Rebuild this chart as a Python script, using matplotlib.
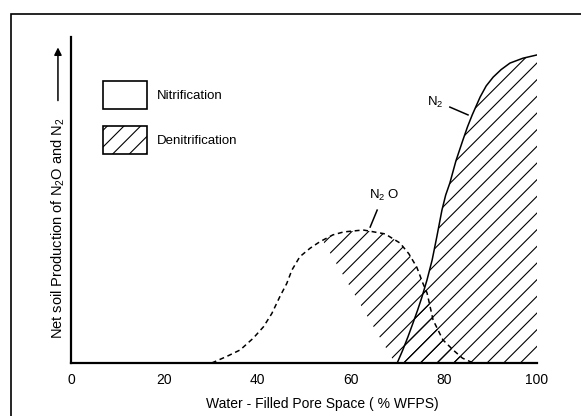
import matplotlib
matplotlib.use('Agg')
import matplotlib.pyplot as plt
from matplotlib.patches import Rectangle, Patch

plt.rcParams['font.family'] = ['Liberation Sans', 'DejaVu Sans']
plt.rcParams['mathtext.fontset'] = 'custom'
plt.rcParams['mathtext.rm'] = 'Liberation Sans'
plt.rcParams['mathtext.it'] = 'Liberation Sans:italic'
plt.rcParams['hatch.linewidth'] = 0.8

# N2O production (dashed bell curve), x = % WFPS, y = relative production
n2o_x = [30.2, 33.4, 36.3, 39.1, 41.3, 43.1, 44.8, 46.3, 47.4, 49.1, 51.3, 53.4, 56.2,
         58.5, 62.7, 67.4, 70.6, 72.5, 74.2, 75.5, 76.4, 77.7, 79.8, 82.0, 84.0, 86.3]
n2o_y = [0.0, 2.0, 4.0, 7.6, 11.1, 15.2, 20.3, 24.4, 28.5, 32.6, 35.2, 37.2, 39.3,
         40.2, 40.8, 39.6, 36.8, 33.5, 29.4, 24.5, 21.5, 13.2, 7.1, 4.0, 1.5, 0.0]

# N2 production (solid rising curve)
n2_x = [70.0, 71.2, 72.3, 73.4, 74.4, 75.3, 76.4, 77.5, 78.5, 79.6, 80.4, 81.3,
        82.6, 84.1, 85.1, 86.1, 87.8, 89.1, 90.6, 92.3, 94.2, 97.0, 100.0]
n2_y = [0.0, 4.0, 8.0, 12.3, 16.3, 20.2, 25.5, 31.6, 38.7, 46.9, 51.5, 55.2,
        62.0, 68.4, 72.5, 76.1, 81.6, 85.0, 87.7, 90.0, 92.0, 93.5, 94.5]

# start and end of the hatched (denitrification) part under the N2O curve
n2o_hatch_start = 54.0
n2o_hatch_base = 69.5

xticks = [0, 20, 40, 60, 80, 100]

fig = plt.figure(figsize=(5.81, 4.16), dpi=100)
ax = fig.add_axes([71 / 581, 1 - 363 / 416, 466 / 581, 326 / 416])
ax.set_xlim(0, 100)
ax.set_ylim(0, 100)

# hatched denitrification area under N2O
top_y = n2o_y[0]
for i in range(len(n2o_x) - 1):
    if n2o_x[i] <= n2o_hatch_start <= n2o_x[i + 1]:
        t = (n2o_hatch_start - n2o_x[i]) / (n2o_x[i + 1] - n2o_x[i])
        top_y = n2o_y[i] + t * (n2o_y[i + 1] - n2o_y[i])
hx = [n2o_hatch_start] + [x for x in n2o_x if x > n2o_hatch_start] + [n2o_hatch_base]
hy = [top_y] + [y for x, y in zip(n2o_x, n2o_y) if x > n2o_hatch_start] + [0.0]
ax.fill(hx, hy, facecolor='none', edgecolor='black', linewidth=0, hatch='//')

# hatched area under N2
ax.fill(n2_x + [n2_x[-1]], n2_y + [0.0], facecolor='none', edgecolor='black',
        linewidth=0, hatch='//')

ax.plot(n2o_x, n2o_y, color='black', lw=1.1, linestyle=(0, (3.2, 2.4)))
ax.plot(n2_x, n2_y, color='black', lw=1.1)

# curve labels with leader lines
ax.text(78.1, 79.8, 'N$_2$', ha='center', va='center', fontsize=9.5)
ax.plot([81.3, 85.2], [78.5, 76.1], color='black', lw=1.1)
ax.text(67.2, 51.5, 'N$_2$ O', ha='center', va='center', fontsize=9.5)
ax.plot([65.7, 64.2], [46.9, 41.7], color='black', lw=1.1)

ax.spines['top'].set_visible(False)
ax.spines['right'].set_visible(False)
ax.spines['left'].set_linewidth(1.6)
ax.spines['bottom'].set_linewidth(1.6)
ax.set_xticks(xticks)
ax.set_yticks([])
ax.tick_params(axis='x', length=0, pad=7, labelsize=10)

ax.set_xlabel('Water - Filled Pore Space ( % WFPS)', fontsize=10)
ax.xaxis.set_label_coords((322 - 71) / 466, -0.105)

ax.text(-0.028, 0.413, 'Net soil Production of N$_2$O and N$_2$', rotation=90,
        ha='center', va='center', fontsize=10.5, transform=ax.transAxes)
ax.annotate('', xy=(-0.028, 0.968), xytext=(-0.028, 0.805), xycoords='axes fraction',
            textcoords='axes fraction',
            arrowprops=dict(arrowstyle='-|>', color='black', lw=1.1,
                            mutation_scale=11, shrinkA=0, shrinkB=0))

handles = [Patch(facecolor='white', edgecolor='black', lw=1.2),
           Patch(facecolor='white', edgecolor='black', lw=1.2, hatch='//')]
ax.legend(handles, ['Nitrification', 'Denitrification'], loc='upper left',
          bbox_to_anchor=(103 / 581, 1 - 81 / 416), bbox_transform=fig.transFigure,
          frameon=False, borderpad=0, borderaxespad=0, handlelength=3.3,
          handleheight=2.9, handletextpad=0.8, labelspacing=1.3, fontsize=9.5)

# page frame around the figure
fig.add_artist(Rectangle((11 / 581, -0.1), 1.0, 1.1 - 14 / 416, transform=fig.transFigure,
                         fill=False, edgecolor='black', lw=1.2))

fig.savefig('out.png', dpi=100)
